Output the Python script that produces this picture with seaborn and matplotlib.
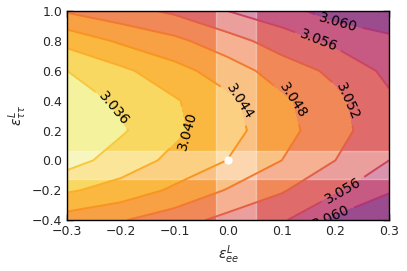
import numpy as np
import pandas as pd
import matplotlib
matplotlib.use('Agg')
import matplotlib.pyplot as plt
import seaborn as sns

# grid of the scan
eps_ee = [-0.3, -0.2, -0.1, 0.0, 0.1, 0.2, 0.3]
eps_tt = [-0.4, -0.2, 0.0, 0.2, 0.4, 0.6, 0.8, 1.0]

# values, one row per eps_tt value
z_m04 = [3.0458, 3.0477, 3.0502, 3.0533, 3.0554, 3.0609, 3.0633]
z_m02 = [3.0395, 3.0415, 3.0447, 3.0483, 3.0516, 3.0553, 3.0596]
z_p00 = [3.0343, 3.0378, 3.0410, 3.0441, 3.0480, 3.0520, 3.0560]
z_p02 = [3.0321, 3.0355, 3.0392, 3.0426, 3.0466, 3.0506, 3.0548]
z_p04 = [3.0339, 3.0367, 3.0396, 3.0431, 3.0472, 3.0510, 3.0553]
z_p06 = [3.0360, 3.0391, 3.0426, 3.0460, 3.0499, 3.0529, 3.0570]
z_p08 = [3.0413, 3.0446, 3.0470, 3.0504, 3.0539, 3.0569, 3.0591]
z_p10 = [3.0484, 3.0505, 3.0527, 3.0560, 3.0585, 3.0617, 3.0628]

fill_levels = [3.030, 3.036, 3.040, 3.044, 3.048, 3.052, 3.056, 3.060, 3.066]
line_levels = [3.036, 3.040, 3.044, 3.048, 3.052, 3.056, 3.060]

fill_colors = ['#f4f29c', '#f9d862', '#fbb840', '#f8a044', '#f08858',
               '#df6c6a', '#c65a82', '#9b4c8e']
line_colors = ['#f7c940', '#fbae2a', '#f8951f', '#f27a2e', '#e45f44',
               '#cc4560', '#b03478']

# where the labels sit
label_pos = [(-0.195, 0.40), (-0.068, 0.20), (0.030, 0.40), (0.131, 0.41),
             (0.229, 0.40), (0.169, 0.81), (0.205, 0.92), (0.215, -0.20),
             (0.192, -0.38)]

# 1 sigma bands and best fit
band_ee = (-0.023, 0.052)
band_tt = (-0.125, 0.065)
best_ee, best_tt = 0.0, 0.0

df = pd.DataFrame([z_m04, z_m02, z_p00, z_p02, z_p04, z_p06, z_p08, z_p10],
                  index=eps_tt, columns=eps_ee)

sns.set_style('ticks', {'xtick.direction': 'in', 'ytick.direction': 'in'})
plt.rcParams['font.family'] = ['DejaVu Sans']

fig, ax = plt.subplots(figsize=(4.07, 2.71), dpi=100)
fig.subplots_adjust(left=0.165, right=0.956, bottom=0.188, top=0.959)

X, Y = np.meshgrid(df.columns.values, df.index.values)
ax.contourf(X, Y, df.values, levels=fill_levels, colors=fill_colors)
cs = ax.contour(X, Y, df.values, levels=line_levels, colors=line_colors, linewidths=1.4)
ax.clabel(cs, fmt='%.3f', fontsize=10, colors='black', manual=label_pos, inline=True)

ax.axvspan(band_ee[0], band_ee[1], color='white', alpha=0.35)
ax.axhspan(band_tt[0], band_tt[1], color='white', alpha=0.35)
ax.plot(best_ee, best_tt, 'o', color='white', ms=5)

ax.set_xlim(-0.3, 0.3)
ax.set_ylim(-0.4, 1.0)
ax.set_xticks(np.arange(-0.3, 0.31, 0.1))
ax.set_yticks(np.arange(-0.4, 1.01, 0.2))
ax.tick_params(top=True, right=True, labelsize=9, length=4, width=1, color='black')
for s in ax.spines.values():
    s.set_color('black')
    s.set_linewidth(1)
ax.set_xlabel(r'$\epsilon^L_{ee}$', fontsize=10)
ax.set_ylabel(r'$\epsilon^L_{\tau\tau}$', fontsize=10, labelpad=2)

plt.savefig('out.png', dpi=100)
